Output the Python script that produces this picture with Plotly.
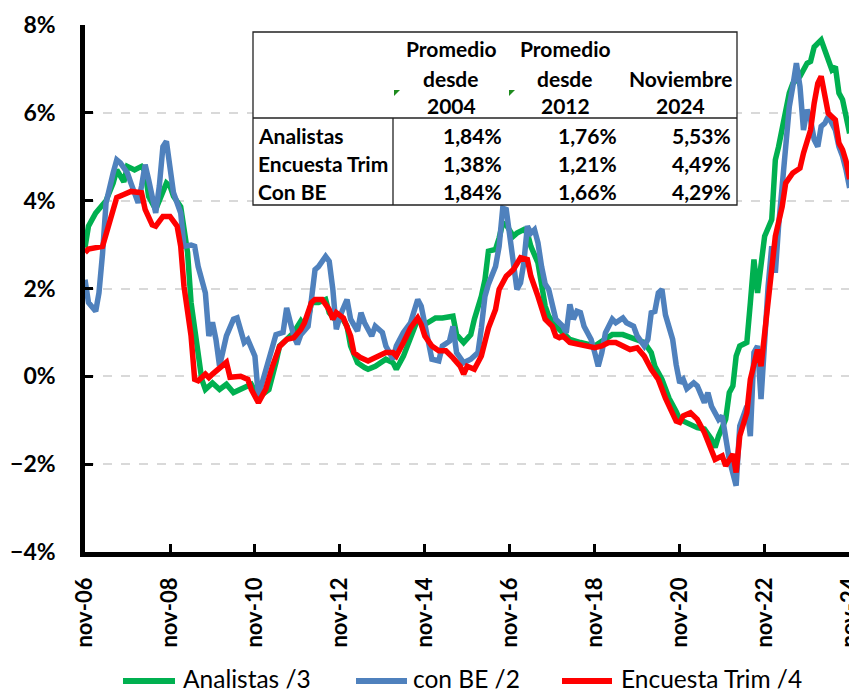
import pandas as pd
import plotly.graph_objects as go

# ---------------- data (month offsets from Nov-2006, values in %) ----------------
base_month = "2006-11-01"

analistas_m = [0, 1, 3, 6, 8, 9, 11, 12, 14, 16, 17, 18, 20, 21, 23, 24, 25, 27, 29, 30, 32, 33, 34, 36, 38, 40, 42, 44, 46, 47, 49,
               52, 54, 55, 57, 59, 61, 62, 63, 64, 66, 68, 69, 71, 72, 74, 75, 77, 79, 80, 82, 85, 87, 88, 90, 92, 94, 96, 97, 99, 101,
               104, 105, 107, 109, 110, 112, 113, 114, 116, 117, 118, 119, 121, 122, 124, 125, 126, 128, 129, 130, 131, 133, 135, 136,
               137, 140, 142, 144, 146, 149, 152, 154, 156, 158, 160, 161, 163, 165, 167, 168, 169, 171, 173, 175, 177, 178, 179, 181,
               182, 183, 184, 185, 187, 188, 189, 190, 191, 192, 194, 195, 196, 198, 199, 200, 202, 204, 205, 206, 208, 209, 211, 212,
               213, 214, 215, 216]
analistas_v = [2.93, 3.42, 3.72, 4.0, 4.4, 4.7, 4.43, 4.78, 4.7, 4.78, 4.67, 4.1, 3.8, 4.0, 4.4, 4.33, 4.1, 3.86, 2.82, 1.68, 0.55, -0.07,
               -0.3, -0.15, -0.3, -0.18, -0.37, -0.3, -0.22, -0.18, -0.48,
               -0.3, 0.32, 0.69, 0.84, 1.0, 1.26, 1.14, 1.3, 1.68, 1.68, 1.75, 1.45, 1.26, 1.41, 1.14, 0.69, 0.31, 0.2, 0.16, 0.23, 0.39,
               0.31, 0.16, 0.46, 0.92, 1.3, 1.18, 1.22, 1.33, 1.33,
               1.37, 0.95, 0.77, 0.95, 1.3, 1.82, 2.2, 2.85, 2.89, 3.15, 3.49, 3.45, 3.19, 3.26, 3.34, 3.26, 2.96, 2.58, 2.05, 1.6, 1.37,
               1.14, 0.99, 0.92,
               0.84, 0.77, 0.73, 0.69, 0.8, 0.95, 0.95, 0.88, 0.84, 0.77, 0.54, 0.23, -0.07, -0.5, -0.8, -0.98, -1.02, -1.09, -1.17,
               -1.2, -1.43, -1.62, -1.36, -0.98,
               -0.37, -0.22, 0.46, 0.69, 0.77, 1.67, 2.66, 1.9, 2.66, 3.19, 3.57, 4.93, 5.23, 6.14, 6.45, 6.67, 6.83, 7.13, 7.17, 7.5,
               7.66, 7.43, 6.98, 7.05,
               6.45, 6.3, 5.92, 5.53]

conbe_m = [0, 1, 3, 4, 5, 6, 8, 9, 10, 12, 13, 15, 16, 17, 18, 20, 21, 22, 23, 24, 25, 27, 28, 30, 31, 32, 34, 35, 36, 37, 38, 40, 42,
           43, 45, 46, 48, 49, 51, 53, 54, 56, 57, 59, 60, 61, 63, 64, 65, 66, 68, 69, 70, 71, 72, 74, 75, 77, 78, 79, 81, 82, 84, 85,
           87, 88, 90, 92, 94, 95, 96, 97, 98, 100, 101, 103, 104, 105, 107, 109, 111, 112, 113, 114, 116, 117, 118, 119, 120, 121,
           122, 123, 124, 125, 126, 127, 128, 129, 130, 131, 132, 133, 135, 136, 137, 138, 139, 140, 141, 143, 144, 145, 146, 147,
           149, 150, 152, 153, 155, 156, 158, 159, 160, 161, 162, 163, 164, 166, 167, 168, 169, 170, 172, 173, 175, 176, 177, 179,
           180, 181, 182, 184, 185, 187, 188, 189, 190, 191, 192, 193, 194, 195, 196, 197, 198, 199, 200, 201, 202, 203, 204, 205,
           206, 207, 208, 209, 210, 212, 213, 214, 215, 216]
conbe_v = [2.2, 1.68, 1.48, 1.9, 2.8, 3.95, 4.63, 4.93, 4.86, 4.63, 4.4, 3.95, 4.33, 4.82, 4.48, 3.72, 4.33, 5.23, 5.35, 4.7, 4.18,
           3.72, 2.96, 2.99, 2.96, 2.5, 1.9, 0.92, 1.23, 0.84, 0.23, 0.92, 1.3,
           1.33, 0.77, 0.84, 0.46, -0.45, 0.16, 0.69, 0.95, 1.0, 1.56, 0.92, 0.73, 0.95, 1.14, 1.75, 2.43, 2.5, 2.73, 2.62, 1.98,
           1.07, 1.37, 1.75, 1.3, 1.03, 1.45, 1.22, 0.92, 1.14, 1.0, 0.69,
           0.39, 0.69, 1.0, 1.22, 1.75, 1.6, 1.22, 0.77, 0.39, 0.35, 0.69, 0.8, 1.14, 0.54, 0.31, 0.39, 0.54, 1.1, 1.82, 2.1, 2.5,
           2.96, 3.83, 3.8, 3.19, 2.66,
           1.98, 2.13, 2.58, 3.42, 3.26, 3.34, 3.04, 2.5, 2.1, 1.98, 1.6, 1.3, 1.14, 0.99, 1.64, 1.3, 1.48, 1.45, 1.14, 0.84, 0.54,
           0.23, 0.54, 0.99,
           1.3, 1.22, 1.33, 1.22, 1.14, 0.92, 0.69, 0.84, 1.45, 1.48, 1.9, 1.98, 1.4, 0.84, 0.27, -0.15, -0.07, -0.28, -0.15, -0.22,
           -0.6, -0.37, -0.68, -0.98,
           -0.9, -1.43, -1.89, -2.49, -1.13, -0.68, -1.36, 0.54, 0.69, -0.52, 0.92, 2.05, 2.96, 2.36, 3.42, 4.33, 5.23, 6.14, 6.6,
           7.13, 6.6, 5.61, 6.07, 5.84,
           5.39, 5.23, 5.69, 5.76, 5.92, 5.61, 5.23, 5.01, 4.7, 4.29]

encuesta_m = [0, 1, 5, 7, 9, 11, 13, 16, 17, 19, 20, 22, 24, 26, 27, 28, 30, 31, 32, 34, 35, 36, 38, 40, 41, 44, 46, 47, 49, 51, 53,
              55, 57, 59, 61, 62, 64, 65, 67, 69, 70, 71, 73, 75, 76, 78, 80, 82, 85, 87, 88, 90, 92, 94, 95, 96, 98, 100, 102, 104,
              106, 107, 108, 110, 111, 112, 114, 116, 117, 119, 121, 122, 123, 125, 126, 128, 129, 130, 132, 133, 134, 135, 137, 139,
              141, 144, 146, 148, 150, 152, 154, 156, 158, 160, 162, 164, 165, 167, 168, 169, 171, 173, 175, 177, 178, 180, 181, 183,
              184, 185, 187, 188, 190, 191, 192, 193, 194, 195, 197, 198, 200, 202, 203, 205, 206, 207, 208, 209, 210, 212, 213, 214,
              215, 216]
encuesta_v = [2.82, 2.9, 2.96, 3.57, 4.07, 4.14, 4.21, 4.18, 3.8, 3.45, 3.42, 3.64, 3.64, 3.42, 2.96, 2.05, 0.92, -0.07, -0.1, 0.05,
              -0.03, 0.05, 0.2, 0.32, -0.02, 0.0, -0.07, -0.3, -0.6, -0.3, 0.23,
              0.68, 0.84, 0.88, 1.07, 1.22, 1.68, 1.75, 1.75, 1.52, 1.3, 1.45, 1.33, 0.92, 0.54, 0.42, 0.35, 0.42, 0.54, 0.54, 0.46,
              0.77, 1.1, 1.33, 1.18, 0.92, 0.69, 0.58, 0.58, 0.42,
              0.23, 0.05, 0.23, 0.16, 0.31, 0.46, 1.1, 1.52, 1.98, 2.28, 2.43, 2.58, 2.7, 2.66, 2.28, 1.82, 1.52, 1.3, 1.14, 0.92,
              0.88, 0.92, 0.77, 0.73,
              0.69, 0.65, 0.69, 0.77, 0.77, 0.69, 0.61, 0.65, 0.46, 0.16, -0.07, -0.5, -0.68, -1.02, -1.05, -0.9, -0.83, -0.98, -1.28,
              -1.66, -1.89, -1.81, -2.04, -1.77,
              -2.19, -1.36, -0.83, -0.07, 0.61, 0.23, 0.92, 1.67, 2.43, 3.19, 3.87, 4.4, 4.63, 4.74, 5.08, 5.61, 6.22, 6.67, 6.83,
              6.45, 5.99, 5.84, 5.31, 5.16,
              4.9, 4.49]

tick_years = [2006, 2008, 2010, 2012, 2014, 2016, 2018, 2020, 2022, 2024]
tick_labels = ["nov-06", "nov-08", "nov-10", "nov-12", "nov-14", "nov-16", "nov-18", "nov-20", "nov-22", "nov-24"]

table_cols = [["Promedio", "desde", "2004"], ["Promedio", "desde", "2012"], ["", "Noviembre", "2024"]]
table_rows = ["Analistas", "Encuesta Trim", "Con BE"]
table_vals = [["1,84%", "1,76%", "5,53%"],
              ["1,38%", "1,21%", "4,49%"],
              ["1,84%", "1,66%", "4,29%"]]

# ---------------- figure ----------------
# the page body has an 8 px margin, so the figure is drawn 8 px right/down of the window corner
OFF = 8
W, H = 857, 694
PL, PR, PT, PB = 85, 850, 25, 552          # plot area in window pixels
ML, MT = PL - OFF, PT - OFF
MR, MB = W - (PR - OFF), H - (PB - OFF)
PW, PH = PR - PL, PB - PT


def to_dates(months):
    b = pd.Timestamp(base_month)
    return [b + pd.DateOffset(months=int(m)) for m in months]


def px(x):
    return (x - PL) / PW


def py(y):
    return (PB - y) / PH


FONT = "Lato"
TFS = 21
fig = go.Figure()
series = [
    ("Analistas /3", analistas_m, analistas_v, "#00B050"),
    ("con BE /2", conbe_m, conbe_v, "#4F81BD"),
    ("Encuesta Trim /4", encuesta_m, encuesta_v, "#FF0000"),
]
for name, m, v, c in series:
    fig.add_trace(go.Scatter(x=to_dates(m), y=v, mode="lines", name=name, showlegend=False,
                             line=dict(color=c, width=5.5), hoverinfo="skip"))

shapes = []
ann = []

# legend (drawn by hand to match the long key lines of the original)
leg_y = 681
leg_lines = [(123, 175), (356, 407), (562, 612)]
leg_text_x = [182, 412, 620]
for (name, _, _, c), (lx0, lx1), tx in zip(series, leg_lines, leg_text_x):
    shapes.append(dict(type="line", xref="paper", yref="paper", x0=px(lx0), x1=px(lx1), y0=py(leg_y), y1=py(leg_y),
                       line=dict(color=c, width=6)))
    ann.append(dict(x=px(tx), y=py(leg_y - 3), xref="paper", yref="paper", text=name, showarrow=False,
                    xanchor="left", yanchor="middle", borderpad=0,
                    font=dict(family=FONT, size=24.5, color="black")))

# table overlay
tx0, tx1, ty0, ty1 = 253, 737, 32, 205
hy, vx = 118, 393
shapes.append(dict(type="rect", xref="paper", yref="paper", x0=px(tx0), x1=px(tx1), y0=py(ty1), y1=py(ty0),
                   fillcolor="white", line=dict(color="#222222", width=1.3), layer="above"))
shapes.append(dict(type="line", xref="paper", yref="paper", x0=px(tx0), x1=px(tx1), y0=py(hy), y1=py(hy),
                   line=dict(color="#222222", width=1.3), layer="above"))
shapes.append(dict(type="line", xref="paper", yref="paper", x0=px(vx), x1=px(vx), y0=py(ty1), y1=py(hy),
                   line=dict(color="#222222", width=1.3), layer="above"))
for gx in (394, 509):
    gy = 90
    path = f"M {px(gx)} {py(gy)} L {px(gx + 6)} {py(gy)} L {px(gx)} {py(gy + 6)} Z"
    shapes.append(dict(type="path", xref="paper", yref="paper", path=path,
                       fillcolor="#1E8B1E", line=dict(width=0), layer="above"))

col_centers = [451, 565, 680]
head_y = [48, 78, 105]
for ci, col in enumerate(table_cols):
    for ri, txt in enumerate(col):
        if txt:
            ann.append(dict(x=px(col_centers[ci]), y=py(head_y[ri]), xref="paper", yref="paper", text=txt,
                            showarrow=False, xanchor="center", yanchor="middle",
                            font=dict(family=FONT, size=TFS, color="black", weight="bold")))
row_y = [135, 163, 191.5]
val_right = [504, 619, 733]
for ri, lab in enumerate(table_rows):
    ann.append(dict(x=px(256), y=py(row_y[ri]), xref="paper", yref="paper", text=lab, showarrow=False,
                    xanchor="left", yanchor="middle", font=dict(family=FONT, size=TFS, color="black", weight="bold")))
    for ci, val in enumerate(table_vals[ri]):
        ann.append(dict(x=px(val_right[ci]), y=py(row_y[ri]), xref="paper", yref="paper", text=val, showarrow=False,
                        xanchor="right", yanchor="middle", font=dict(family=FONT, size=TFS, color="black", weight="bold")))

fig.update_layout(
    width=W, height=H,
    margin=dict(l=ML, r=MR, t=MT, b=MB, pad=0, autoexpand=False),
    paper_bgcolor="white", plot_bgcolor="white",
    font=dict(family=FONT, color="black"),
    showlegend=False,
    shapes=shapes, annotations=ann,
    xaxis=dict(type="date", range=[pd.Timestamp("2006-11-01"), pd.Timestamp("2024-11-04")],
               tickvals=[pd.Timestamp(f"{y}-11-01") for y in tick_years], ticktext=tick_labels,
               tickangle=-90, ticks="inside", ticklen=8, tickwidth=3, tickcolor="black",
               showline=True, linecolor="black", linewidth=4.5, showgrid=False, zeroline=False, automargin=False,
               tickfont=dict(family=FONT, size=22, color="black", weight="bold"), ticklabelstandoff=12),
    yaxis=dict(range=[-4, 8], dtick=2, tick0=0, ticksuffix="%", ticks="inside", ticklen=8, tickwidth=3,
               tickcolor="black", showline=True, linecolor="black", linewidth=4.5, automargin=False,
               showgrid=True, gridcolor="#D9D9D9", gridwidth=1.5, griddash="dash", zeroline=False,
               tickfont=dict(family=FONT, size=23, color="black", weight="bold"), ticklabelstandoff=20),
)

fig.write_html("out.html")
